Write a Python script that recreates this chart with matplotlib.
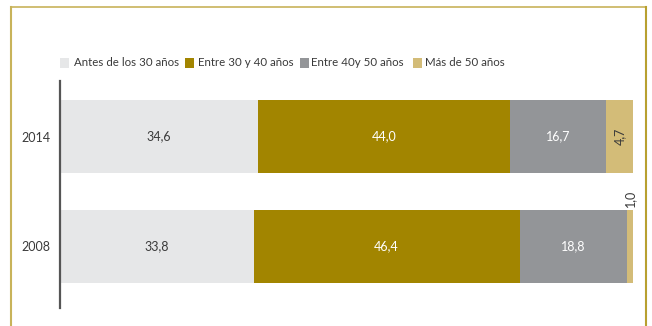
import matplotlib
matplotlib.use("Agg")
import matplotlib.pyplot as plt
from matplotlib.patches import Rectangle
from matplotlib.lines import Line2D
import numpy as np

plt.rcParams['font.family'] = ['Lato', 'DejaVu Sans']

years = ["2008", "2014"]
categories = ["Antes de los 30 años", "Entre 30 y 40 años", "Entre 40y 50 años", "Más de 50 años"]
antes30 = [33.8, 34.6]
entre30_40 = [46.4, 44.0]
entre40_50 = [18.8, 16.7]
mas50 = [1.0, 4.7]
series = [antes30, entre30_40, entre40_50, mas50]

colors = ["#E6E7E8", "#A28500", "#939598", "#D3BC78"]
label_colors = ["#3A3A3A", "white", "white", "#3A3A3A"]

W, H = 652, 326
fig = plt.figure(figsize=(W / 100, H / 100), dpi=100)
ax = fig.add_axes([60 / W, 1 - 308 / H, (633 - 60) / W, (308 - 81) / H])

y = np.arange(len(years))
left = np.zeros(len(years))
for vals, c, lc in zip(series, colors, label_colors):
    vals = np.array(vals)
    ax.barh(y, vals, left=left, height=0.66, color=c, edgecolor='none')
    for yi, v, l in zip(y, vals, left):
        txt = f"{v:.1f}".replace(".", ",")
        if v < 2:
            ax.text(l + v / 2, yi + 0.33 + 0.03, txt, rotation=90, ha='center', va='bottom',
                    fontsize=9, color="#3A3A3A")
        elif v < 8:
            ax.text(l + v / 2, yi, txt, rotation=90, ha='center', va='center',
                    fontsize=9, color=lc)
        else:
            ax.text(l + v / 2, yi, txt, ha='center', va='center', fontsize=9, color=lc)
    left = left + vals

ax.set_xlim(0, 100)
ax.set_ylim(-0.56, 1.505)
ax.set_yticks(y)
ax.set_yticklabels(years, fontsize=9, color="#3A3A3A")
ax.tick_params(axis='y', length=0, pad=7)
ax.set_xticks([])
for s in ['top', 'right', 'bottom']:
    ax.spines[s].set_visible(False)
ax.spines['left'].set_color("#555555")
ax.spines['left'].set_linewidth(1.6)

# legend
sq_x = [60, 185, 300, 413]
txt_x = [74, 198, 311, 425]
ly = 63
for sx, tx, cat, c in zip(sq_x, txt_x, categories, colors):
    fig.add_artist(Rectangle((sx / W, 1 - (ly + 5) / H), 9 / W, 10 / H,
                             transform=fig.transFigure, color=c, lw=0))
    fig.text(tx / W, 1 - ly / H, cat, ha='left', va='center', fontsize=8.3, color="#3A3A3A")

# frame
fc = "#C8B35A"
fig.add_artist(Line2D([11 / W, 646 / W], [1 - 7 / H, 1 - 7 / H], transform=fig.transFigure, color=fc, lw=1.2))
fig.add_artist(Line2D([11 / W, 11 / W], [1 - 7 / H, 0], transform=fig.transFigure, color=fc, lw=1.5))
fig.add_artist(Line2D([646 / W, 646 / W], [1 - 7 / H, 0], transform=fig.transFigure, color="#B8A030", lw=1.5))

fig.savefig("out.png", dpi=100)
